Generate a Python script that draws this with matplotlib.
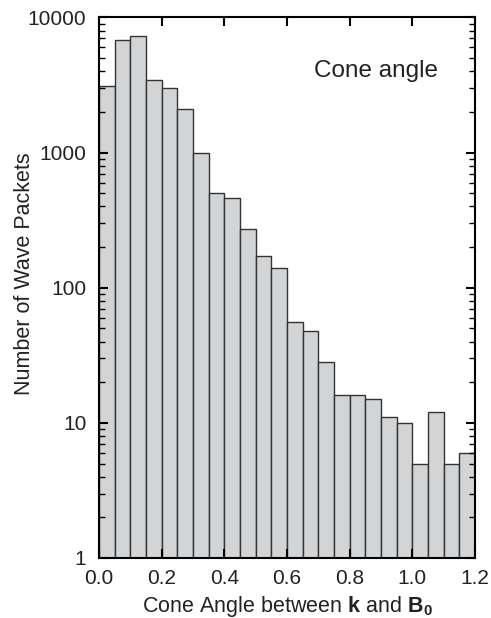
import matplotlib
matplotlib.use("Agg")
import matplotlib.pyplot as plt
import numpy as np
from matplotlib.ticker import LogLocator, FixedLocator, NullLocator, FixedFormatter

plt.rcParams['font.family'] = ['Liberation Sans', 'DejaVu Sans']
plt.rcParams['mathtext.fontset'] = 'custom'
plt.rcParams['mathtext.rm'] = 'Liberation Sans'
plt.rcParams['mathtext.bf'] = 'Liberation Sans:bold'
plt.rcParams['mathtext.it'] = 'Liberation Sans:italic'

bin_edges = [0.0, 0.05, 0.10, 0.15, 0.20, 0.25, 0.30, 0.35, 0.40, 0.45, 0.50, 0.55,
             0.60, 0.65, 0.70, 0.75, 0.80, 0.85, 0.90, 0.95, 1.00, 1.05, 1.10, 1.15, 1.20]
counts = [3100, 6850, 7350, 3450, 3000, 2100, 1000, 500, 460, 270, 173, 140,
          56, 48, 28, 16, 16, 15, 11, 10, 5, 12, 5, 6]
x_ticks = [0.0, 0.2, 0.4, 0.6, 0.8, 1.0, 1.2]
x_tick_labels = ["0.0", "0.2", "0.4", "0.6", "0.8", "1.0", "1.2"]
y_ticks = [1, 10, 100, 1000, 10000]
y_tick_labels = ["1", "10", "100", "1000", "10000"]

fig = plt.figure(figsize=(4.91, 6.18), dpi=100)
ax = fig.add_axes([0.2016, 0.0971, 0.7658, 0.8746])

lefts = np.array(bin_edges[:-1])
widths = np.diff(bin_edges)
ax.bar(lefts, counts, width=widths, align='edge', color='#d3d4d6',
       edgecolor='#333333', linewidth=1.0)

ax.set_yscale('log')
ax.set_ylim(1, 10000)
ax.set_xlim(0, 1.2)

ax.xaxis.set_major_locator(FixedLocator(x_ticks))
ax.xaxis.set_major_formatter(FixedFormatter(x_tick_labels))
ax.xaxis.set_minor_locator(NullLocator())
ax.yaxis.set_major_locator(FixedLocator(y_ticks))
ax.yaxis.set_major_formatter(FixedFormatter(y_tick_labels))
ax.yaxis.set_minor_locator(LogLocator(base=10, subs=np.arange(2, 10)))

ax.tick_params(which='both', direction='in', top=True, right=True,
               labelsize=15, color='black', labelcolor='#222222')
ax.tick_params(which='major', length=6.5, width=1.5)
ax.tick_params(which='minor', length=4.3, width=1.0)
ax.tick_params(axis='x', pad=8)
ax.tick_params(axis='y', pad=9)
for s in ax.spines.values():
    s.set_linewidth(1.5)

ax.set_xlabel(r"Cone Angle between $\mathbf{k}$ and $\mathbf{B_0}$", fontsize=15.5,
              color='#222222', labelpad=4)
ax.set_ylabel("Number of Wave Packets", fontsize=15.5, color='#222222')
ax.yaxis.set_label_coords(-0.17, 0.526)
ax.text(0.901, 0.89, "Cone angle", transform=ax.transAxes, ha='right', va='baseline',
        fontsize=17.5, color='#222222')

fig.savefig("out.png", dpi=100)
